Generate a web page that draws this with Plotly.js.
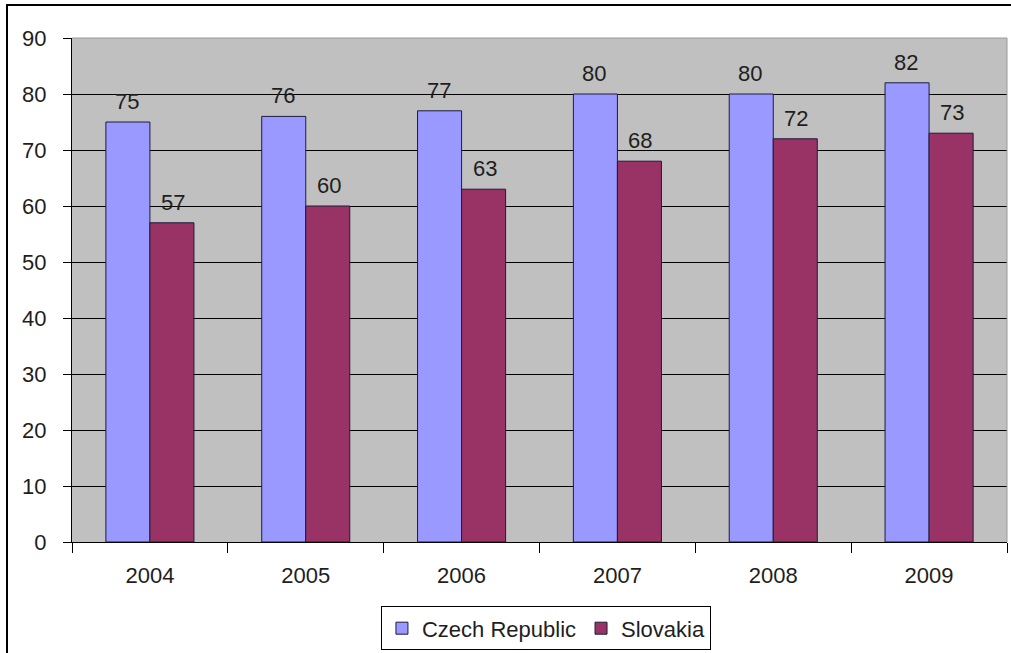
<!DOCTYPE html>
<html>
<head>
<meta charset="utf-8">
<script src="https://cdn.plot.ly/plotly-3.0.1.min.js"></script>
<style>
  html, body { margin: 0; padding: 0; background: #fff; }
  #wrap { position: relative; width: 1011px; height: 653px; overflow: hidden; }
  #chart { width: 1011px; height: 653px; }
  #frame {
    position: absolute; left: 6px; top: 4px; right: -10px; bottom: -10px;
    border-left: 2px solid #000; border-top: 2px solid #000;
    pointer-events: none;
  }
</style>
</head>
<body>
<div id="wrap">
  <div id="chart"></div>
  <div id="frame"></div>
</div>
<script>
// Yearly values for the two countries
const years = ['2004', '2005', '2006', '2007', '2008', '2009'];
const czechRepublic = [75, 76, 77, 80, 80, 82];
const slovakia = [57, 60, 63, 68, 72, 73];

const FONT = '"Liberation Sans", Arial, sans-serif';
const TXT = '#1e1e1e';

const traces = [
  {
    type: 'bar', name: 'Czech Republic', x: years, y: czechRepublic,
    marker: { color: '#9999FF', line: { color: '#1c1c3c', width: 1 } },
    hoverinfo: 'skip'
  },
  {
    type: 'bar', name: 'Slovakia', x: years, y: slovakia,
    marker: { color: '#993366', line: { color: '#1c1c3c', width: 1 } },
    hoverinfo: 'skip'
  }
];

// value labels above each bar (x given as category index)
const BAR_SHIFT = 23;
const annotations = [];
years.forEach((yr, i) => {
  annotations.push({ x: i, y: czechRepublic[i], text: String(czechRepublic[i]),
    xshift: -BAR_SHIFT, yshift: 6, yanchor: 'bottom', showarrow: false,
    font: { family: FONT, size: 22, color: TXT } });
  annotations.push({ x: i, y: slovakia[i], text: String(slovakia[i]),
    xshift: BAR_SHIFT, yshift: 6, yanchor: 'bottom', showarrow: false,
    font: { family: FONT, size: 22, color: TXT } });
});

const layout = {
  width: 1011, height: 653,
  margin: { l: 72, r: 4, t: 38, b: 111 },
  paper_bgcolor: '#ffffff',
  plot_bgcolor: '#C0C0C0',
  font: { family: FONT, size: 22, color: TXT },
  barmode: 'group',
  bargap: 0.435,
  bargroupgap: 0,
  showlegend: true,
  legend: {
    orientation: 'h',
    xref: 'container', yref: 'container',
    x: 0.54, xanchor: 'center', y: 0.004, yanchor: 'bottom',
    bgcolor: '#ffffff', bordercolor: '#000', borderwidth: 1,
    font: { family: FONT, size: 22, color: TXT },
    itemwidth: 30, tracegroupgap: 0
  },
  xaxis: {
    type: 'category',
    categoryorder: 'array', categoryarray: years,
    range: [-0.5, years.length - 0.5],
    autorange: false,
    tickson: 'boundaries',
    ticks: 'outside', ticklen: 10, tickcolor: '#000', tickwidth: 1,
    showline: true, linecolor: '#000', linewidth: 1,
    showgrid: false, zeroline: false,
    tickangle: 0,
    ticklabelstandoff: 14,
    tickfont: { family: FONT, size: 22, color: TXT },
    fixedrange: true
  },
  yaxis: {
    range: [0, 90], autorange: false, dtick: 10, tick0: 0,
    ticks: 'outside', ticklen: 8, tickcolor: '#000', tickwidth: 1,
    showline: true, linecolor: '#000', linewidth: 1,
    showgrid: true, gridcolor: '#000', gridwidth: 1,
    zeroline: false,
    ticklabelstandoff: 12,
    tickfont: { family: FONT, size: 22, color: TXT },
    fixedrange: true
  },
  shapes: [
    { type: 'line', xref: 'paper', yref: 'paper', x0: 0, x1: 1, y0: 1, y1: 1,
      line: { color: '#9a9a9a', width: 1 }, layer: 'above' },
    { type: 'line', xref: 'paper', yref: 'paper', x0: 1, x1: 1, y0: 0, y1: 1,
      line: { color: '#9a9a9a', width: 1 }, layer: 'above' }
  ],
  annotations: annotations
};

Plotly.newPlot('chart', traces, layout, { displayModeBar: false, staticPlot: true });
</script>
</body>
</html>
